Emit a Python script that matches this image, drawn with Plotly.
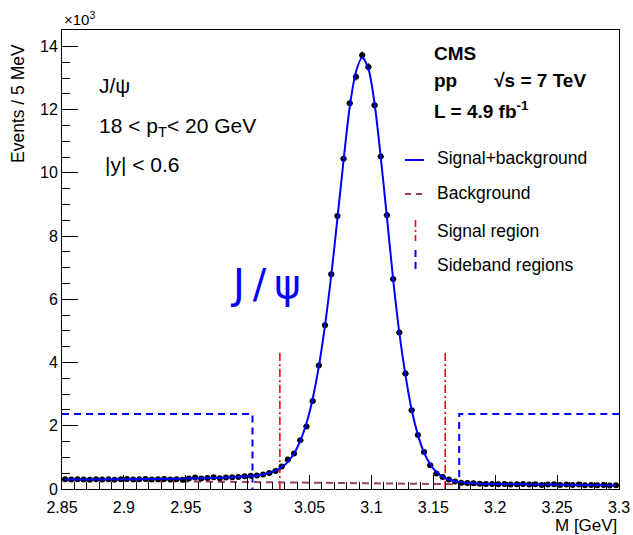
import numpy as np
import plotly.graph_objects as go

# ---------------- data (counts in units of 10^3 events / 5 MeV) ----------------
bin_lo, bin_hi, bin_width = 2.85, 3.30, 0.005
mass = np.round(np.arange(bin_lo + bin_width / 2, bin_hi, bin_width), 4)

counts = [
    0.31, 0.30, 0.31, 0.30, 0.29, 0.31, 0.30, 0.31, 0.29, 0.31,
    0.32, 0.30, 0.31, 0.32, 0.30, 0.31, 0.32, 0.30, 0.31, 0.29,
    0.33, 0.36, 0.33, 0.35, 0.37, 0.34, 0.36, 0.37, 0.38, 0.40,
    0.42, 0.43, 0.46, 0.51, 0.57, 0.71, 0.93, 1.12, 1.54, 1.98,
    2.78, 3.91, 5.18, 6.79, 8.64, 10.45, 12.2, 13.04, 13.72, 13.35,
    12.14, 10.52, 8.66, 6.64, 4.95, 3.65, 2.49, 1.71, 1.17, 0.75,
    0.49, 0.38, 0.30, 0.24, 0.20, 0.19, 0.18, 0.17, 0.16, 0.16,
    0.15, 0.16, 0.14, 0.15, 0.16, 0.14, 0.15, 0.13, 0.14, 0.15,
    0.13, 0.14, 0.13, 0.14, 0.12, 0.13, 0.12, 0.13, 0.11, 0.12,
]

fit_total = [
    0.300, 0.300, 0.301, 0.302, 0.302, 0.303, 0.304, 0.305, 0.306, 0.307,
    0.308, 0.309, 0.311, 0.313, 0.315, 0.317, 0.319, 0.322, 0.325, 0.328,
    0.331, 0.335, 0.339, 0.344, 0.349, 0.355, 0.362, 0.370, 0.380, 0.392,
    0.41, 0.43, 0.46, 0.51, 0.58, 0.69, 0.86, 1.12, 1.52, 2.08,
    2.85, 3.88, 5.18, 6.75, 8.55, 10.4, 12.1, 13.2, 13.65, 13.3,
    12.2, 10.5, 8.6, 6.65, 4.95, 3.6, 2.5, 1.72, 1.15, 0.78,
    0.54, 0.39, 0.30, 0.245, 0.21, 0.19, 0.178, 0.170, 0.164, 0.160,
    0.157, 0.154, 0.152, 0.150, 0.148, 0.146, 0.144, 0.142, 0.140, 0.138,
    0.136, 0.134, 0.132, 0.130, 0.128, 0.126, 0.124, 0.122, 0.120, 0.118,
]

bkg_mass = [2.85, 3.30]
bkg_vals = [0.28, 0.10]

signal_region = [3.026, 3.1596]
signal_line_top = 4.34
sideband_left = [2.85, 3.0039]
sideband_right = [3.1709, 3.30]
sideband_level = 2.37

x_ticks = [2.85, 2.9, 2.95, 3.0, 3.05, 3.1, 3.15, 3.2, 3.25, 3.3]
x_ticklabels = ["2.85", "2.9", "2.95", "3", "3.05", "3.1", "3.15", "3.2", "3.25", "3.3"]
y_ticks = [0, 2, 4, 6, 8, 10, 12, 14]

assert len(counts) == len(mass) == len(fit_total)
errors = np.sqrt(np.array(counts) * 1000.0) / 1000.0

# ---------------- styles ----------------
FONT = "Liberation Sans, Arial, Helvetica, sans-serif"
BLUE = "#0000ff"
RED = "#ff0000"
BKG = "#9b3d64"

fig = go.Figure()

# sideband regions
fig.add_trace(go.Scatter(
    x=[sideband_left[0], sideband_left[1], sideband_left[1]],
    y=[sideband_level, sideband_level, 0],
    mode="lines", line=dict(color=BLUE, width=2, dash="7px,5px"),
    showlegend=False, hoverinfo="skip"))
fig.add_trace(go.Scatter(
    x=[sideband_right[0], sideband_right[0], sideband_right[1]],
    y=[0, sideband_level, sideband_level],
    mode="lines", line=dict(color=BLUE, width=2, dash="7px,5px"),
    showlegend=False, hoverinfo="skip"))

# signal region
for xs in signal_region:
    fig.add_trace(go.Scatter(
        x=[xs, xs], y=[0, signal_line_top], mode="lines",
        line=dict(color=RED, width=1.6, dash="8px,3px,2px,3px"),
        showlegend=False, hoverinfo="skip"))

# background
fig.add_trace(go.Scatter(
    x=bkg_mass, y=bkg_vals, mode="lines",
    line=dict(color=BKG, width=2, dash="7px,5px"),
    showlegend=False))

# data points
fig.add_trace(go.Scatter(
    x=mass, y=counts, mode="markers",
    marker=dict(color="black", size=6),
    error_y=dict(type="data", array=errors, color="black", thickness=1.3, width=0),
    error_x=dict(type="constant", value=bin_width / 2, color="black", thickness=1.3, width=0),
    showlegend=False))

# fit
fig.add_trace(go.Scatter(
    x=mass, y=fit_total, mode="lines",
    line=dict(color=BLUE, width=2, shape="spline", smoothing=0.8),
    showlegend=False))

# ---------------- layout ----------------
L, R, T, B = 62, 14, 30, 46
W, H = 633, 535
pw, ph = W - L - R, H - T - B


def px(xp):
    return (xp - L) / pw


def py(yp):
    return (H - B - yp) / ph


fig.update_layout(
    width=W, height=H,
    margin=dict(l=L, r=R, t=T, b=B, autoexpand=False),
    paper_bgcolor="white", plot_bgcolor="white",
    font=dict(family=FONT, size=16, color="black"),
    showlegend=False,
)
fig.update_xaxes(
    range=[bin_lo, bin_hi], tickvals=x_ticks, ticktext=x_ticklabels,
    ticks="inside", ticklen=14, tickwidth=1, tickcolor="black",
    minor=dict(dtick=0.01, tick0=2.85, ticks="inside", ticklen=7, tickcolor="black", tickwidth=1),
    showline=True, linecolor="black", linewidth=1, mirror=True,
    showgrid=False, zeroline=False, automargin=False,
    ticklabelstandoff=4,
    tickfont=dict(family=FONT, size=16),
)
fig.update_yaxes(
    range=[0, 14.52], tickvals=y_ticks,
    ticks="inside", ticklen=16, tickwidth=1, tickcolor="black",
    minor=dict(dtick=0.5, tick0=0, ticks="inside", ticklen=8, tickcolor="black", tickwidth=1),
    showline=True, linecolor="black", linewidth=1, mirror=True,
    showgrid=False, zeroline=False, automargin=False,
    tickfont=dict(family=FONT, size=16),
)

ann = []
# axis titles and exponent
ann.append(dict(text="×10<sup>3</sup>", x=0, y=1, xref="paper", yref="paper",
                xanchor="left", yanchor="bottom", yshift=0, showarrow=False,
                font=dict(size=15)))
ann.append(dict(text="Events / 5 MeV", x=0, xshift=-44, y=py(104), xref="paper", yref="paper",
                xanchor="center", yanchor="middle", textangle=-90, showarrow=False,
                font=dict(size=17.5)))
ann.append(dict(text="M [GeV]", x=1, y=0, yshift=-25, xref="paper", yref="paper",
                xanchor="right", yanchor="top", showarrow=False, font=dict(size=17)))

# left text block
ann.append(dict(text="J/ψ", x=px(97), y=py(85), xref="paper", yref="paper",
                xanchor="left", yanchor="middle", showarrow=False, font=dict(size=21)))
ann.append(dict(text="18 &lt; p<sub>T</sub>&lt; 20 GeV", x=px(97), y=py(127), xref="paper", yref="paper",
                xanchor="left", yanchor="middle", showarrow=False, font=dict(size=21)))
ann.append(dict(text="|y| &lt; 0.6", x=px(103), y=py(165), xref="paper", yref="paper",
                xanchor="left", yanchor="middle", showarrow=False, font=dict(size=21)))

# CMS block
ann.append(dict(text="<b>CMS</b>", x=px(432), y=py(53), xref="paper", yref="paper",
                xanchor="left", yanchor="middle", showarrow=False, font=dict(size=19)))
ann.append(dict(text="<b>pp\u00a0\u00a0\u00a0\u00a0\u00a0\u00a0 √s = 7 TeV</b>", x=px(432), y=py(80), xref="paper", yref="paper",
                xanchor="left", yanchor="middle", showarrow=False, font=dict(size=19)))
ann.append(dict(text="<b>L = 4.9 fb<sup>-1</sup></b>", x=px(432), y=py(110), xref="paper", yref="paper",
                xanchor="left", yanchor="middle", showarrow=False, font=dict(size=19)))

# big J/psi label
ann.append(dict(text="J\u2009/\u2009ψ", x=3.0144, y=6.5, xref="x", yref="y",
                xanchor="center", yanchor="middle", showarrow=False,
                font=dict(family="DejaVu Sans, sans-serif", size=40, color=BLUE)))

# legend texts
leg_items = [("Signal+background", 158), ("Background", 193),
             ("Signal region", 231), ("Sideband regions", 265)]
for txt, yy in leg_items:
    ann.append(dict(text=txt, x=px(435), y=py(yy), xref="paper", yref="paper",
                    xanchor="left", yanchor="middle", showarrow=False, font=dict(size=17.5)))

shapes = [
    dict(type="line", xref="paper", yref="paper", x0=px(405), x1=px(424), y0=py(160), y1=py(160),
         line=dict(color=BLUE, width=2)),
    dict(type="line", xref="paper", yref="paper", x0=px(405), x1=px(424), y0=py(194), y1=py(194),
         line=dict(color=BKG, width=2, dash="6px,5px")),
    dict(type="line", xref="paper", yref="paper", x0=px(415.5), x1=px(415.5), y0=py(220), y1=py(241),
         line=dict(color=RED, width=1.6, dash="7px,3px,2px,3px")),
    dict(type="line", xref="paper", yref="paper", x0=px(415.5), x1=px(415.5), y0=py(250), y1=py(274),
         line=dict(color=BLUE, width=2, dash="7px,5px")),
]

fig.update_layout(annotations=ann, shapes=shapes)
fig.write_html("out.html")
